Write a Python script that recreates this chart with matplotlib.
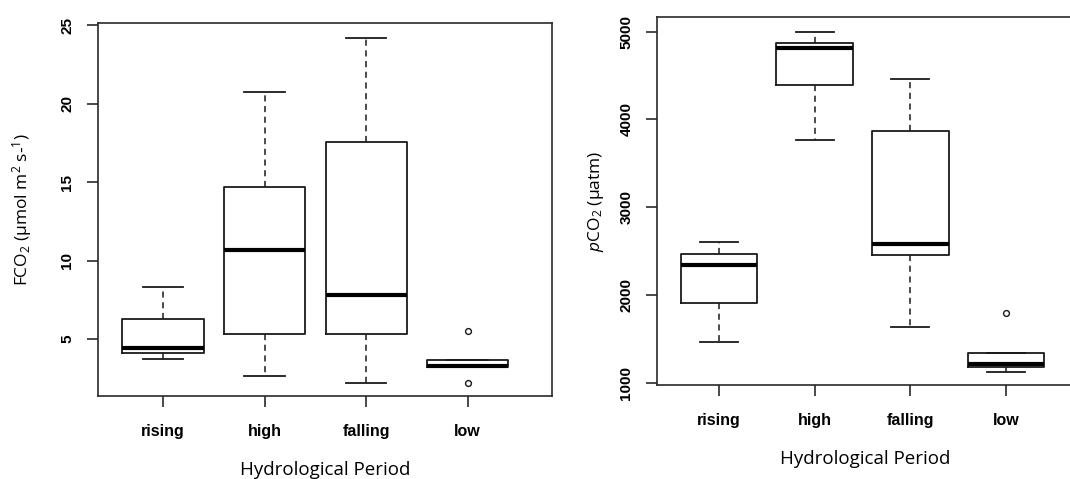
import matplotlib
matplotlib.use("Agg")
import matplotlib.pyplot as plt

# Hydrological periods
periods = ["rising", "high", "falling", "low"]

# FCO2 (umol m-2 s-1) box statistics
fco2_whislo = [3.73, 2.65, 2.2, 3.2]
fco2_q1 = [4.13, 5.3, 5.3, 3.2]
fco2_med = [4.4, 10.67, 7.8, 3.3]
fco2_q3 = [6.3, 14.66, 17.57, 3.65]
fco2_whishi = [8.33, 20.76, 24.2, 3.65]
fco2_fliers = [[], [], [], [5.5, 2.22]]

# pCO2 (uatm) box statistics
pco2_whislo = [1460, 3769, 1638, 1126]
pco2_q1 = [1905, 4393, 2452, 1175]
pco2_med = [2338, 4818, 2577, 1210]
pco2_q3 = [2463, 4867, 3865, 1339]
pco2_whishi = [2603, 4992, 4457, 1339]
pco2_fliers = [[], [], [], [1791]]

plt.rcParams['mathtext.fontset'] = 'custom'
plt.rcParams['mathtext.rm'] = 'Open Sans'
plt.rcParams['mathtext.it'] = 'Open Sans:italic'

W, H = 1070, 479
fig = plt.figure(figsize=(W / 100, H / 100), dpi=100)

def ax_at(x0, x1, ytop, ybot):
    return fig.add_axes([x0 / W, 1 - ybot / H, (x1 - x0) / W, (ybot - ytop) / H])

ax1 = ax_at(98, 552, 23, 396)
ax2 = ax_at(657, 1073, 17, 385)

def draw(ax, wlo, q1, med, q3, whi, fl, yt):
    stats = []
    for i in range(len(periods)):
        stats.append(dict(whislo=wlo[i], q1=q1[i], med=med[i], q3=q3[i],
                          whishi=whi[i], fliers=fl[i], label=periods[i]))
    ax.bxp(stats, positions=[1, 2, 3, 4], widths=0.8, showfliers=True,
           boxprops=dict(color='#1a1a1a', linewidth=1.3),
           medianprops=dict(color='black', linewidth=3.0, solid_capstyle='butt'),
           whiskerprops=dict(color='#1a1a1a', linewidth=1.1, linestyle=(0, (4, 3))),
           capprops=dict(color='#1a1a1a', linewidth=1.3),
           capwidths=0.4,
           flierprops=dict(marker='o', markersize=4.2, markerfacecolor='white',
                           markeredgecolor='#1a1a1a', markeredgewidth=1.0))
    for s in ax.spines.values():
        s.set_linewidth(1.2)
        s.set_color('#2a2a2a')
    ax.tick_params(axis='both', length=8, width=1.2, color='#2a2a2a')
    ax.tick_params(axis='y', pad=9)
    ax.set_yticks(yt)
    ax.set_yticklabels([str(v) for v in yt], fontfamily='Liberation Sans',
                       fontweight='bold', fontsize=11, rotation=90, va='center')
    for lab in ax.get_xticklabels():
        lab.set_fontfamily('Liberation Sans')
        lab.set_fontweight('bold')
        lab.set_fontsize(11.5)

draw(ax1, fco2_whislo, fco2_q1, fco2_med, fco2_q3, fco2_whishi, fco2_fliers,
     [5, 10, 15, 20, 25])
ax1.set_xlim(0.36, 4.83)
ax1.set_ylim(1.37, 25.13)
ax1.tick_params(axis='x', pad=12)
ax1.set_ylabel('FCO$_2$ (µmol m$^2$ s-$^1$)', fontfamily='Open Sans',
               fontsize=12.5, labelpad=19)
ax1.set_xlabel('Hydrological Period', fontfamily='Open Sans', fontsize=13.5, labelpad=16)

draw(ax2, pco2_whislo, pco2_q1, pco2_med, pco2_q3, pco2_whishi, pco2_fliers,
     [1000, 2000, 3000, 4000, 5000])
ax2.set_xlim(0.352, 4.7)
ax2.set_ylim(974, 5167)
ax2.tick_params(axis='x', pad=12)
ax2.set_ylabel('$\\it{p}$CO$_2$ (µatm)', fontfamily='Open Sans',
               fontsize=12.5, labelpad=10)
ax2.set_xlabel('Hydrological Period', fontfamily='Open Sans', fontsize=13.5, labelpad=16)

fig.savefig('out.png', dpi=100)
